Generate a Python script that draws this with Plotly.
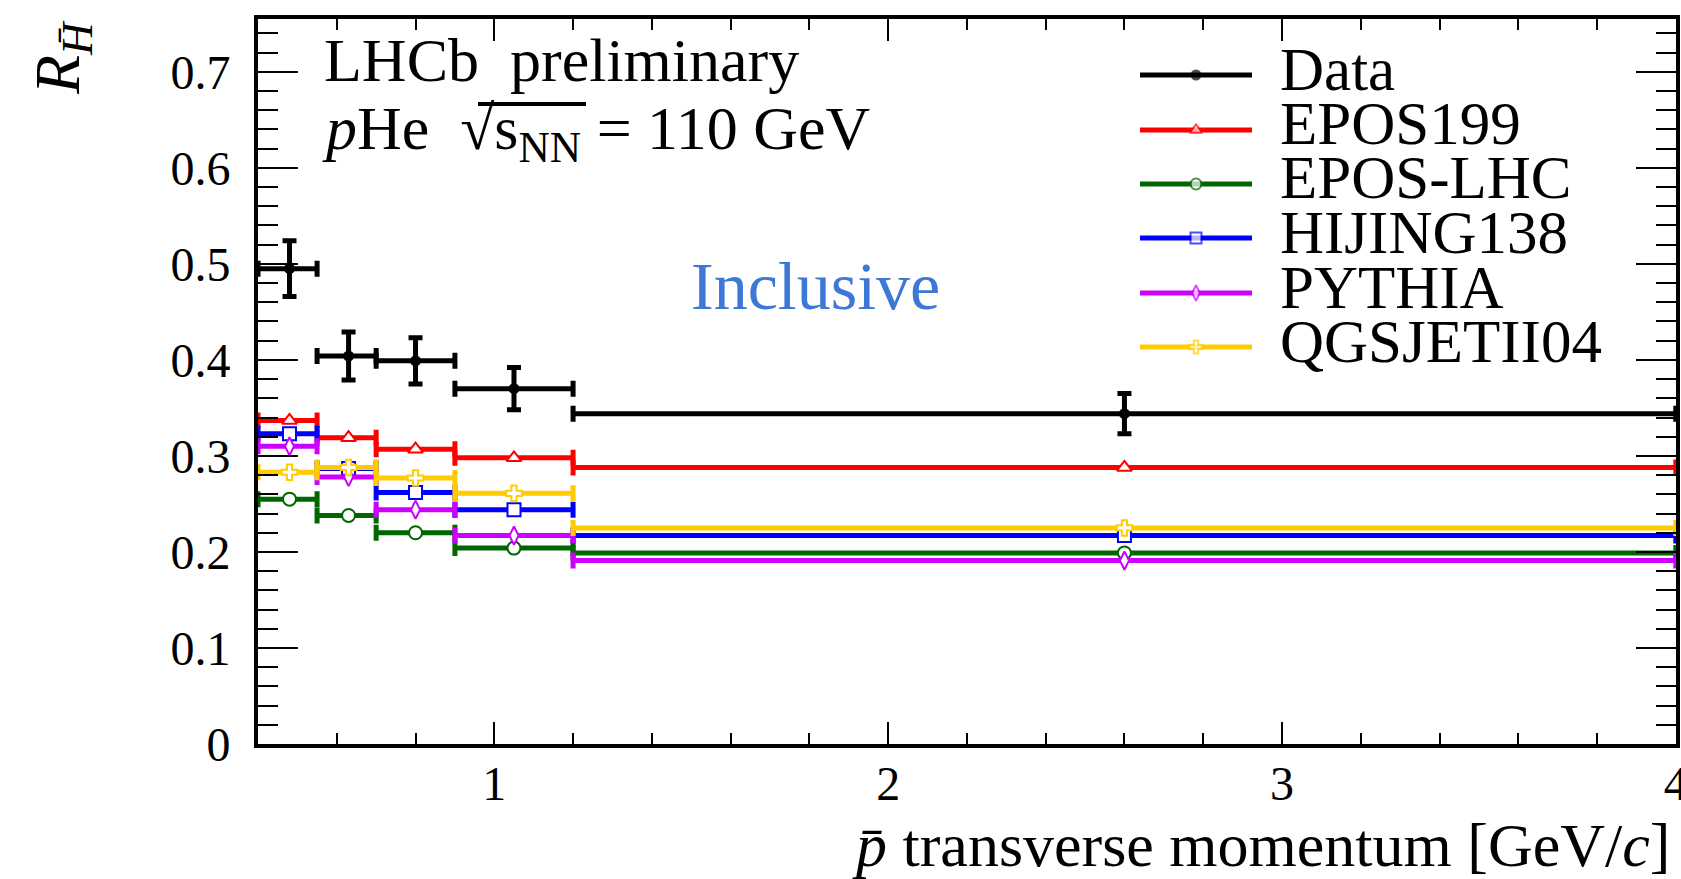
import plotly.graph_objects as go

# ---------------- data ----------------
bin_lo = [0.40, 0.55, 0.70, 0.90, 1.20]
bin_hi = [0.55, 0.70, 0.90, 1.20, 4.00]
pt_mean = [0.48, 0.63, 0.80, 1.05, 2.60]

data_val = [0.495, 0.404, 0.399, 0.370, 0.344]
data_err = [0.029, 0.025, 0.024, 0.022, 0.021]

epos199 = [0.337, 0.319, 0.307, 0.298, 0.288]
eposlhc = [0.255, 0.238, 0.220, 0.204, 0.199]
hijing = [0.323, 0.287, 0.262, 0.244, 0.217]
pythia = [0.310, 0.278, 0.244, 0.217, 0.191]
qgsjet = [0.283, 0.288, 0.277, 0.261, 0.225]

series_names = ["EPOS199", "EPOS-LHC", "HIJING138", "PYTHIA", "QGSJETII04"]
series_vals = [epos199, eposlhc, hijing, pythia, qgsjet]
series_colors = ["#ff0000", "#006600", "#0000ff", "#cc00ff", "#ffcc00"]
series_symbols = ["triangle-up", "circle", "square", "diamond-tall", "cross"]

x_ticks = [1, 2, 3, 4]

# ---------------- geometry ----------------
W, H = 1681, 879
L, R, T, B = 258, 1676, 19, 744
FONT = "Liberation Serif"


def px(x):
    return (x - L) / (R - L)


def py(y):
    return (B - y) / (B - T)


fig = go.Figure()

err_lo = [m - lo for m, lo in zip(pt_mean, bin_lo)]
err_hi = [hi - m for m, hi in zip(pt_mean, bin_hi)]

for name, vals, col, sym in zip(series_names, series_vals, series_colors, series_symbols):
    fig.add_trace(go.Scatter(
        x=pt_mean, y=vals, mode="markers", name=name, showlegend=False,
        marker=dict(symbol=sym, size=13, color="white", line=dict(color=col, width=2)),
        error_x=dict(type="data", symmetric=False, array=err_hi, arrayminus=err_lo,
                     color=col, thickness=5, width=8),
        cliponaxis=False,
    ))

fig.add_trace(go.Scatter(
    x=pt_mean, y=data_val, mode="markers", name="Data", showlegend=False,
    marker=dict(symbol="circle", size=11, color="black"),
    error_x=dict(type="data", symmetric=False, array=err_hi, arrayminus=err_lo,
                 color="black", thickness=5, width=8),
    error_y=dict(type="data", array=data_err, color="black", thickness=5, width=7),
    cliponaxis=False,
))

# ---------------- manual legend (overlay pixel axes) ----------------
leg_names = ["Data"] + series_names
leg_colors = ["black"] + series_colors
leg_symbols = ["circle"] + series_symbols
leg_rows = [75, 130, 184, 238, 293, 347]
for nm, col, sym, yy in zip(leg_names, leg_colors, leg_symbols, leg_rows):
    fill = "black" if nm == "Data" else "white"
    fig.add_trace(go.Scatter(
        x=[1140, 1196, 1252], y=[yy, yy, yy], mode="lines+markers",
        xaxis="x2", yaxis="y2", showlegend=False, hoverinfo="skip",
        line=dict(color=col, width=5),
        marker=dict(symbol=sym, size=[0, 11, 0], color=fill,
                    line=dict(color=col, width=[0, 2, 0] if nm != "Data" else 0)),
        cliponaxis=False,
    ))

annotations = []
for nm, yy in zip(leg_names, leg_rows):
    annotations.append(dict(text=nm, x=px(1278), y=py(yy - 6), xref="paper", yref="paper",
                            xanchor="left", yanchor="middle", showarrow=False,
                            font=dict(family=FONT, size=61, color="black")))

annotations += [
    dict(text="LHCb\u00a0\u00a0preliminary", x=px(322), y=py(60), xref="paper", yref="paper",
         xanchor="left", yanchor="middle", showarrow=False,
         font=dict(family=FONT, size=62, color="black")),
    dict(text="<i>p</i>He\u00a0\u00a0<b>√</b>s<sub>NN</sub> = 110 GeV",
         x=px(320), y=py(132), xref="paper", yref="paper",
         xanchor="left", yanchor="middle", showarrow=False,
         font=dict(family=FONT, size=62, color="black")),
    dict(text="Inclusive", x=px(815), y=py(286), xref="paper", yref="paper",
         xanchor="center", yanchor="middle", showarrow=False,
         font=dict(family=FONT, size=68, color="#3d78d6")),
    dict(text="<i>p̄</i> transverse momentum [GeV/<i>c</i>]", x=px(1672), y=py(845),
         xref="paper", yref="paper", xanchor="right", yanchor="middle", showarrow=False,
         font=dict(family=FONT, size=62, color="black")),
    dict(text="<i>R</i><sub><i>H̄</i></sub>", x=px(62), y=py(58), xref="paper", yref="paper",
         xanchor="center", yanchor="middle", showarrow=False, textangle=-90,
         font=dict(family=FONT, size=64, color="black")),
]

shapes = [
    # radical bar over s_NN
    dict(type="line", xref="paper", yref="paper", x0=px(478), x1=px(586), y0=py(104), y1=py(104),
         line=dict(color="black", width=4)),
]

fig.update_layout(
    width=W, height=H,
    margin=dict(l=L, r=W - R, t=T, b=H - B, pad=0, autoexpand=False),
    paper_bgcolor="white", plot_bgcolor="white",
    showlegend=False,
    annotations=annotations,
    shapes=shapes,
    xaxis=dict(range=[0.4, 4.0005], tickmode="array", tickvals=x_ticks,
               ticktext=[str(v) for v in x_ticks], automargin=False,
               ticks="inside", ticklen=22, tickwidth=1.5, tickcolor="black",
               minor=dict(ticks="inside", dtick=0.2, tick0=0, ticklen=11, tickwidth=1.5, tickcolor="black"),
               showline=True, linewidth=4, linecolor="black", mirror="allticks",
               showgrid=False, zeroline=False, ticklabeloverflow="allow",
               tickfont=dict(family=FONT, size=48, color="black"), ticklabelstandoff=-6),
    yaxis=dict(range=[0, 0.755], dtick=0.1, tick0=0, automargin=False,
               ticks="inside", ticklen=40, tickwidth=2, tickcolor="black",
               minor=dict(ticks="inside", dtick=0.02, ticklen=20, tickwidth=2, tickcolor="black"),
               showline=True, linewidth=4, linecolor="black", mirror="allticks",
               showgrid=False, zeroline=False,
               tickfont=dict(family=FONT, size=48, color="black"), ticklabelstandoff=14),
    xaxis2=dict(range=[L, R], overlaying="x", visible=False, fixedrange=True, automargin=False),
    yaxis2=dict(range=[B, T], overlaying="y", visible=False, fixedrange=True, automargin=False),
)

fig.write_html("out.html")
